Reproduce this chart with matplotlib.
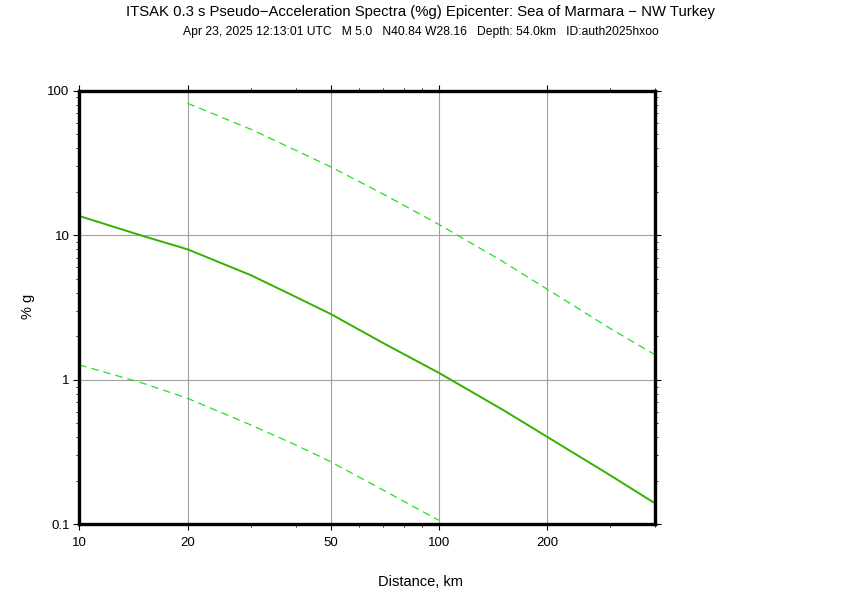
import numpy as np
import matplotlib.pyplot as plt
from matplotlib.ticker import FixedLocator, NullFormatter

plt.rcParams['font.family'] = ['Liberation Sans', 'DejaVu Sans']

# distances (km) and spectral acceleration (%g)
dist_med = [10, 15, 20, 30, 40, 50, 70, 100, 150, 200, 300, 400]
sa_med = [13.6, 9.9, 8.0, 5.3, 3.75, 2.86, 1.80, 1.12, 0.626, 0.405, 0.219, 0.14]

dist_hi = [20, 30, 40, 50, 70, 100, 150, 200, 300, 400]
sa_hi = [81.8, 54.1, 38.7, 29.8, 19.3, 11.9, 6.64, 4.25, 2.27, 1.49]

dist_lo = [10, 15, 20, 30, 40, 50, 70, 100]
sa_lo = [1.27, 0.95, 0.746, 0.488, 0.355, 0.272, 0.173, 0.107]

x_major = [10, 20, 50, 100, 200]
x_minor = [30, 40, 60, 70, 80, 90, 300, 400]
y_major = [0.1, 1, 10, 100]
y_minor = [m * d for d in [0.1, 1, 10] for m in range(2, 10)]

title = "ITSAK 0.3 s Pseudo\u2212Acceleration Spectra (%g) Epicenter: Sea of Marmara \u2212 NW Turkey"
subtitle = ("Apr 23, 2025 12:13:01 UTC   M 5.0   N40.84 W28.16   "
            "Depth: 54.0km   ID:auth2025hxoo")

fig = plt.figure(figsize=(8.42, 5.95), dpi=100)
ax = fig.add_axes([0.0942, 0.1185, 0.6838, 0.7291])

ax.plot(dist_hi, sa_hi, color='#22e022', lw=0.9, ls=(0, (6, 4)))
ax.plot(dist_lo, sa_lo, color='#22e022', lw=0.9, ls=(0, (6, 4)))
ax.plot(dist_med, sa_med, color='#36b000', lw=1.4)

ax.set_xscale('log')
ax.set_yscale('log')
ax.set_xlim(10, 400)
ax.set_ylim(0.1, 100)

ax.xaxis.set_major_locator(FixedLocator(x_major))
ax.xaxis.set_minor_locator(FixedLocator(x_minor))
ax.yaxis.set_major_locator(FixedLocator(y_major))
ax.yaxis.set_minor_locator(FixedLocator(y_minor))
ax.set_xticklabels([str(v) for v in x_major])
ax.set_yticklabels(['0.1', '1', '10', '100'])
ax.xaxis.set_minor_formatter(NullFormatter())
ax.yaxis.set_minor_formatter(NullFormatter())

ax.tick_params(which='both', direction='out', top=True, right=True,
               labeltop=False, labelright=False, labelsize=9.5, color='black')
ax.tick_params(which='major', length=4, width=0.8, pad=3)
ax.tick_params(axis='x', which='major', pad=5)
ax.tick_params(which='minor', length=2.5, width=0.6)

ax.grid(which='major', color='#a0a0a0', lw=0.8)
ax.set_axisbelow(True)
for s in ax.spines.values():
    s.set_linewidth(2.4)

# axis titles sit centred on the page, as in the original
fig.text(0.5, 1 - 582 / 595, 'Distance, km', ha='center', va='center', fontsize=10.5)
fig.text(28 / 842, 0.4845, '% g', ha='center', va='center', rotation=90, fontsize=10.5)

fig.text(0.5, 0.979, title, ha='center', va='center', fontsize=10.7)
fig.text(0.5, 0.946, subtitle, ha='center', va='center', fontsize=8.7)

fig.savefig('out.png', dpi=100)
